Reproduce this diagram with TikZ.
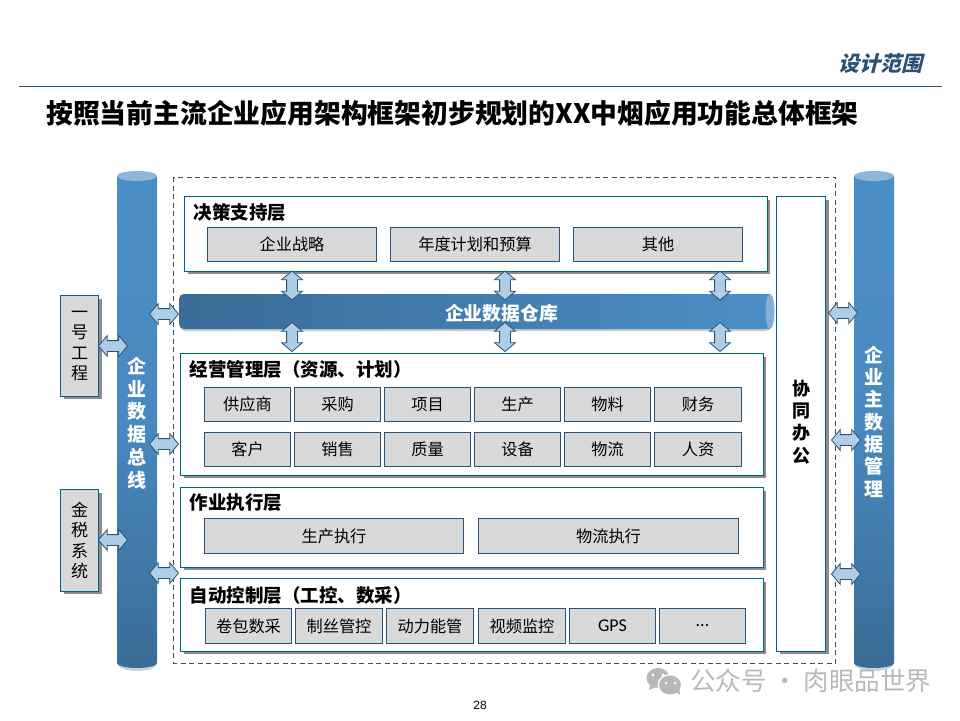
\documentclass[tikz,border=0pt]{standalone}
\usepackage{fontspec}
\setmainfont{Noto Sans CJK SC}
\newfontfamily\slantfont[BoldFeatures={FakeSlant=0.25}]{Noto Sans CJK SC}
\newfontfamily\latinfont{Carlito}
\newfontfamily\pagefont{Liberation Sans}
\usetikzlibrary{arrows.meta,positioning,shapes.arrows,shadows,calc}
\definecolor{navy}{RGB}{42,82,116}
\definecolor{ocean}{RGB}{0,96,146}
\definecolor{steel}{RGB}{75,142,198}
\definecolor{deep}{RGB}{58,108,150}
\definecolor{lid}{RGB}{142,182,218}
\definecolor{pale}{RGB}{174,205,230}
\definecolor{cell}{RGB}{217,217,217}
\definecolor{wmgray}{RGB}{184,184,184}
\tikzset{
  sh/.style={drop shadow={shadow xshift=3pt,shadow yshift=-3pt,fill=black!45,opacity=1}},
  layerbox/.style={draw=ocean,fill=white,line width=.9pt,sh,anchor=north west,inner sep=0pt,outer sep=0pt},
  sidebox/.style={draw=ocean,fill=cell,line width=.9pt,sh,anchor=north west,inner sep=0pt,outer sep=0pt,
    text width=38pt,align=center,font=\fontsize{17}{20.5}\selectfont},
  cellbox/.style={draw=navy,fill=cell,line width=.9pt,anchor=north west,inner sep=0pt,outer sep=0pt,
    minimum height=35pt,align=center,font=\fontsize{16.2}{18}\selectfont},
  layertitle/.style={anchor=west,inner sep=0pt,font=\fontsize{18.5}{21}\selectfont\bfseries},
  twoway/.style={double arrow,draw=navy,fill=pale,line width=.8pt,inner xsep=0pt,inner ysep=5pt,outer sep=0pt,
    minimum height=29pt,minimum width=0pt,double arrow head extend=5pt,
    double arrow tip angle=100,rotate=#1},
  twoway/.default=0,
  pics/barrel/.style={code={
    \fill[black!30,opacity=.6] (-19.5,6) -- (-19.5,493) arc[start angle=180,end angle=0,x radius=19.5,y radius=7] -- (19.5,6) -- cycle;
    \shade[top color=steel,bottom color=deep,middle color=steel!85!deep]
      (-20,5) -- (-20,492) arc[start angle=180,end angle=0,x radius=20,y radius=5] -- (20,5) -- cycle;
    \fill[lid] (0,5) ellipse[x radius=20,y radius=5];
  }},
}
\begin{document}
\begin{tikzpicture}[x=1pt,y=-1pt]
  \useasboundingbox (0,0) rectangle (960,720);
  % heading
  \node[anchor=east,inner sep=0pt,text=navy,font=\slantfont\fontsize{21}{24}\selectfont\bfseries] (topic) at (923,64) {设计范围};
  \draw[navy,line width=1.2pt] (19,86.5) -- (942,86.5);
  \node[anchor=west,inner sep=0pt,font=\fontsize{26.8}{30}\selectfont\bfseries] (headline) at (46,113) {按照当前主流企业应用架构框架初步规划的XX中烟应用功能总体框架};
  % dashed frame
  \draw[navy,line width=.9pt,dash pattern=on 5pt off 3.5pt] (173.5,177) rectangle (835.5,663);
  % bars
  \pic at (137,171) {barrel};
  \pic at (874,171) {barrel};
  \node[text=white,align=center,inner sep=0pt,font=\fontsize{19}{22.8}\selectfont\bfseries] (bus) at (137,423) {企\\业\\数\\据\\总\\线};
  \node[text=white,align=center,inner sep=0pt,font=\fontsize{19}{22.3}\selectfont\bfseries] (master) at (874,421.5) {企\\业\\主\\数\\据\\管\\理};
  % warehouse
  \shade[left color=deep,right color=steel,rounded corners=5pt,drop shadow={shadow xshift=1pt,shadow yshift=-2pt,fill=black!30,opacity=.7}]
    (179,294) -- (770,294) -- (770,329) -- (179,329) -- cycle;
  \fill[steel] (766,294) rectangle (770,329);
  \fill[lid!85!steel] (770,311.5) ellipse[x radius=4.5,y radius=17.5];
  \node[text=white,inner sep=0pt,font=\fontsize{18.8}{21}\selectfont\bfseries] (store) at (501.5,313) {企业数据仓库};
  % layers
  \node[layerbox,minimum width=582.5pt,minimum height=74.5pt] (plan) at (184.5,196.5) {};
  \node[layerbox,minimum width=582.5pt,minimum height=121.5pt] (manage) at (180.5,353.5) {};
  \node[layerbox,minimum width=582.5pt,minimum height=79.5pt] (run) at (180.5,487.5) {};
  \node[layerbox,minimum width=582.5pt,minimum height=72.5pt] (auto) at (180.5,578.5) {};
  \node[layerbox,minimum width=49pt,minimum height=454.5pt,align=center] (office) at (776.5,196.5) {};
  \node[align=center,inner sep=0pt,font=\fontsize{18}{22.3}\selectfont\bfseries] (officetext) at (801,422) {协\\同\\办\\公};
  \node[layertitle] (plantitle) at (193.5,212) {决策支持层};
  \node[layertitle] (managetitle) at (189.5,369) {经营管理层（资源、计划）};
  \node[layertitle] (runtitle) at (189.5,503) {作业执行层};
  \node[layertitle] (autotitle) at (189.5,595) {自动控制层（工控、数采）};
  % cells
  \foreach \t/\x/\y/\w/\h in {
    企业战略/207/227/170/35, 年度计划和预算/390/227/170/35, 其他/573/227/170/35,
    供应商/204/387/87/35, 采购/294/387/87/35, 项目/384/387/87/35,
    生产/474/387/87/35, 物料/564/387/87/35, 财务/654/387/88/35,
    客户/204/432/87/35, 销售/294/432/87/35, 质量/384/432/87/35,
    设备/474/432/87/35, 物流/564/432/87/35, 人资/654/432/88/35,
    生产执行/204/518/260/36, 物流执行/478/518/261/36,
    卷包数采/205/608/87/36, 制丝管控/295/608/88/36, 动力能管/386/608/88/36,
    视频监控/478/608/88/36}
    \node[cellbox,minimum width=\w pt-1pt,minimum height=\h pt-1pt] (c\x-\y) at (\x+.5,\y+.5) {\t};
  \node[cellbox,minimum width=86pt,minimum height=35pt,font=\latinfont\fontsize{18}{20}\selectfont] (gps) at (569.5,608.5) {GPS};
  \node[cellbox,minimum width=86pt,minimum height=35pt,font=\latinfont\fontsize{18}{20}\selectfont] (more) at (659.5,608.5) {...};
  % side systems
  \node[sidebox,minimum height=100.5pt] (first) at (60.5,295.5) {一\\号\\工\\程};
  \node[sidebox,minimum height=101.5pt] (tax) at (60.5,489.5) {金\\税\\系\\统};
  % two way arrows
  \foreach \x/\y in {113/346,164/314,113/540,164/444,164/573,843/313,846/440,846/574}
    \node[twoway] (h\x-\y) at (\x,\y) {};
  \foreach \x in {292,505,720}{
    \node[twoway=90] (up\x) at (\x,285.5) {};
    \node[twoway=90] (dn\x) at (\x,337) {};
  }
  % watermark
  \fill[wmgray] (658,678) ellipse[x radius=11.5,y radius=10];
  \fill[wmgray] (661,685) -- (649,690) -- (651,680) -- cycle;
  \fill[white] (653,675) circle (1.6) (663,675) circle (1.6);
  \fill[white] (670,685) ellipse[x radius=12.5,y radius=11];
  \fill[wmgray] (670,685) ellipse[x radius=11,y radius=9.5];
  \fill[wmgray] (674,690) -- (680,695) -- (679,686) -- cycle;
  \fill[white] (666,683) circle (1.5) (675,683) circle (1.5);
  \node[anchor=west,inner sep=0pt,text=wmgray,font=\fontsize{25.5}{28}\selectfont] (wm) at (690,681) {公众号 · 肉眼品世界};
  \node[inner sep=0pt,font=\pagefont\fontsize{12}{14}\selectfont] (page) at (480,705) {28};
\end{tikzpicture}
\end{document}
